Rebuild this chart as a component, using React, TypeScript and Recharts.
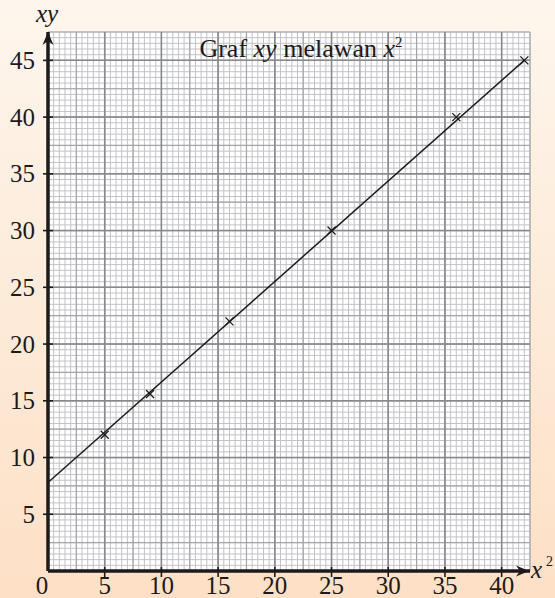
import React from 'react';
import {
  ComposedChart,
  Line,
  Scatter,
  XAxis,
  YAxis,
  CartesianGrid,
  ReferenceDot,
} from 'recharts';

// x² against xy readings
const x2Values = [5, 9, 16, 25, 36, 42];
const xyValues = [12, 15.6, 22, 30, 40, 45];

// best fit line, from intercept to last reading
const fitX = [0, 42];
const fitY = [7.8, 45];

const xTicks = [0, 5, 10, 15, 20, 25, 30, 35, 40];
const yTicks = [5, 10, 15, 20, 25, 30, 35, 40, 45];

const X_MAX = 42.5;
const Y_MAX = 47.5;

const points = x2Values.map((x, i) => ({ x, y: xyValues[i] }));
const fitLine = fitX.map((x, i) => ({ x, y: fitY[i] }));
const xAxisLine = [{ x: 0, y: 0 }, { x: X_MAX, y: 0 }];
const yAxisLine = [{ x: 0, y: 0 }, { x: 0, y: Y_MAX }];

// graph paper: 0.5 minor, 2.5 medium, 5 major (the axes sit on 0)
const steps = (max: number, step: number) =>
  Array.from({ length: Math.floor(max / step + 1e-9) }, (_, i) => +((i + 1) * step).toFixed(2));
const minorX = steps(X_MAX, 0.5);
const minorY = steps(Y_MAX, 0.5);
const midX = steps(X_MAX, 2.5);
const midY = steps(Y_MAX, 2.5);
const majorX = steps(X_MAX, 5);
const majorY = steps(Y_MAX, 5);

const INK = '#1e1a1b';
const FONT = '"Liberation Serif", "Times New Roman", serif';
const serif = { fontFamily: FONT };
const AXIS_W = 3;

const renderXTick = (props: any) => {
  const { x, y, payload } = props;
  const v = payload.value;
  return (
    <g key={`xt-${v}`}>
      {v !== 0 && <line x1={x} x2={x} y1={y - 4} y2={y + 6} stroke={INK} strokeWidth={1.6} />}
      <text x={v === 0 ? x - 6 : x} y={y + 23} textAnchor="middle" fontSize={25} style={serif} fill={INK}>
        {v}
      </text>
    </g>
  );
};

const renderYTick = (props: any) => {
  const { x, y, payload } = props;
  return (
    <g key={`yt-${payload.value}`}>
      <line x1={x - 5} x2={x + 5} y1={y} y2={y} stroke={INK} strokeWidth={1.6} />
      <text x={x - 13} y={y + 8.5} textAnchor="end" fontSize={25} style={serif} fill={INK}>
        {payload.value}
      </text>
    </g>
  );
};

const Cross = (props: any) => {
  const { cx, cy } = props;
  const s = 4;
  return (
    <g stroke={INK} strokeWidth={1.3}>
      <line x1={cx - s} y1={cy - s} x2={cx + s} y2={cy + s} />
      <line x1={cx - s} y1={cy + s} x2={cx + s} y2={cy - s} />
    </g>
  );
};

const ArrowRight = (props: any) => {
  const { cx, cy } = props;
  const t = cx - 1;
  return <path d={`M${t},${cy} L${t - 13},${cy - 5.5} L${t - 9},${cy} L${t - 13},${cy + 5.5} Z`} fill={INK} />;
};

const ArrowUp = (props: any) => {
  const { cx, cy } = props;
  const t = cy;
  return <path d={`M${cx},${t} L${cx - 5.5},${t + 13} L${cx},${t + 9} L${cx + 5.5},${t + 13} Z`} fill={INK} />;
};

const axisSeries = {
  dataKey: 'y',
  type: 'linear' as const,
  stroke: INK,
  strokeWidth: AXIS_W,
  dot: false,
  activeDot: false,
  isAnimationActive: false,
};

export default function App() {
  return (
    <div
      style={{
        position: 'absolute',
        left: 0,
        top: 0,
        width: 555,
        height: 598,
        background: 'linear-gradient(to bottom, #fef6ed 0%, #fdebd9 50%, #fde0c6 100%)',
      }}
    >
      <ComposedChart width={555} height={598} margin={{ top: 32, right: 25, bottom: 0, left: 0 }}>
        <CartesianGrid
          fill="#ffffff"
          stroke="#c2c3c7"
          strokeWidth={1}
          verticalValues={minorX}
          horizontalValues={minorY}
        />
        <CartesianGrid stroke="#a4a5a9" strokeWidth={1.2} verticalValues={midX} horizontalValues={midY} />
        <CartesianGrid stroke="#88898d" strokeWidth={1.5} verticalValues={majorX} horizontalValues={majorY} />
        <XAxis
          dataKey="x"
          type="number"
          domain={[0, X_MAX]}
          ticks={xTicks}
          height={27}
          tickSize={0}
          tickMargin={0}
          tickLine={false}
          tick={renderXTick}
          axisLine={{ stroke: INK, strokeWidth: AXIS_W }}
          interval={0}
        />
        <YAxis
          dataKey="y"
          type="number"
          domain={[0, Y_MAX]}
          ticks={yTicks}
          width={48}
          tickSize={0}
          tickMargin={0}
          tickLine={false}
          tick={renderYTick}
          axisLine={{ stroke: INK, strokeWidth: AXIS_W }}
          interval={0}
        />
        {/* axes again as series so they sit over the paper */}
        <Line data={xAxisLine} {...axisSeries} />
        <Line data={yAxisLine} {...axisSeries} />
        <Line
          data={fitLine}
          dataKey="y"
          type="linear"
          stroke={INK}
          strokeWidth={1.5}
          dot={false}
          activeDot={false}
          isAnimationActive={false}
        />
        <Scatter data={points} dataKey="y" shape={<Cross />} isAnimationActive={false} />
        <ReferenceDot x={X_MAX} y={0} ifOverflow="visible" shape={<ArrowRight />} />
        <ReferenceDot x={0} y={Y_MAX} ifOverflow="visible" shape={<ArrowUp />} />
      </ComposedChart>
      <svg
        width={555}
        height={598}
        style={{ position: 'absolute', left: 0, top: 0, pointerEvents: 'none', fontFamily: FONT }}
        fill={INK}
      >
        <text x={301} y={57} textAnchor="middle" fontSize={26}>
          Graf <tspan fontStyle="italic">xy</tspan> melawan <tspan fontStyle="italic">x</tspan>
          <tspan fontSize={15} dy={-10}>2</tspan>
        </text>
        <text x={47} y={22} textAnchor="middle" fontSize={25} fontStyle="italic">
          xy
        </text>
        <text x={531} y={578} fontSize={25} fontStyle="italic">
          x
        </text>
        <text x={546} y={566} fontSize={14}>
          2
        </text>
      </svg>
    </div>
  );
}
